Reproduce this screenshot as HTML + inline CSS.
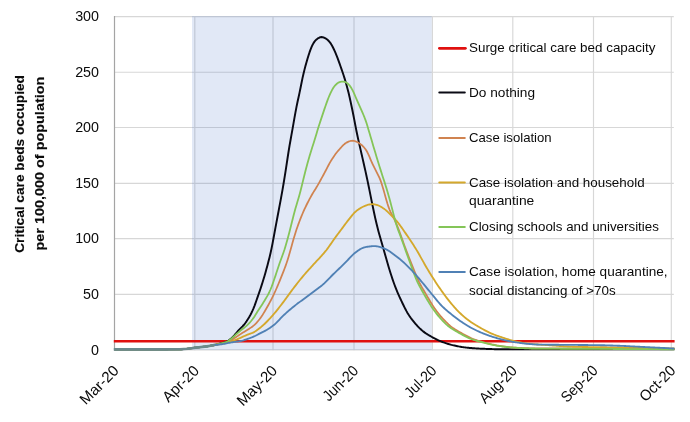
<!DOCTYPE html>
<html><head><meta charset="utf-8"><title>Critical care beds occupied</title>
<style>
html,body{margin:0;padding:0;background:#fff;}
body{width:690px;height:422px;overflow:hidden;position:relative;font-family:"Liberation Sans",sans-serif;}
</style></head><body>
<svg width="690" height="422" viewBox="0 0 690 422" style="position:absolute;left:0;top:0;will-change:transform;font-family:'Liberation Sans',sans-serif">
<rect x="0" y="0" width="690" height="422" fill="#ffffff"/>
<line x1="114" y1="294.4" x2="673.8" y2="294.4" stroke="#d7d7d7" stroke-width="1.15"/>
<line x1="114" y1="238.6" x2="673.8" y2="238.6" stroke="#d7d7d7" stroke-width="1.15"/>
<line x1="114" y1="183.3" x2="673.8" y2="183.3" stroke="#d7d7d7" stroke-width="1.15"/>
<line x1="114" y1="127.5" x2="673.8" y2="127.5" stroke="#d7d7d7" stroke-width="1.15"/>
<line x1="114" y1="72.2" x2="673.8" y2="72.2" stroke="#d7d7d7" stroke-width="1.15"/>
<line x1="114" y1="16.6" x2="673.8" y2="16.6" stroke="#d7d7d7" stroke-width="1.15"/>
<line x1="194.8" y1="16" x2="194.8" y2="350.3" stroke="#d7d7d7" stroke-width="1.15"/>
<line x1="273.0" y1="16" x2="273.0" y2="350.3" stroke="#d7d7d7" stroke-width="1.15"/>
<line x1="354.0" y1="16" x2="354.0" y2="350.3" stroke="#d7d7d7" stroke-width="1.15"/>
<line x1="432.4" y1="16" x2="432.4" y2="350.3" stroke="#d7d7d7" stroke-width="1.15"/>
<line x1="512.8" y1="16" x2="512.8" y2="350.3" stroke="#d7d7d7" stroke-width="1.15"/>
<line x1="593.5" y1="16" x2="593.5" y2="350.3" stroke="#d7d7d7" stroke-width="1.15"/>
<line x1="671.3" y1="16" x2="671.3" y2="350.3" stroke="#d7d7d7" stroke-width="1.15"/>
<line x1="114" y1="349.8" x2="673.8" y2="349.8" stroke="#d7d7d7" stroke-width="1.15"/>
<line x1="114.5" y1="16" x2="114.5" y2="350.3" stroke="#a4a4a4" stroke-width="1.2"/>
<rect x="192" y="16" width="239.7" height="334" fill="rgb(68,114,196)" fill-opacity="0.16"/>
<line x1="113.8" y1="341.3" x2="674.6" y2="341.3" stroke="#e0100f" stroke-width="2.6" stroke-linecap="butt"/>
<path d="M114.5,349.40 L115.5,349.40 L116.5,349.40 L117.5,349.40 L118.5,349.40 L119.5,349.40 L120.5,349.40 L121.5,349.40 L122.5,349.40 L123.5,349.40 L124.5,349.40 L125.5,349.40 L126.5,349.40 L127.5,349.40 L128.5,349.40 L129.5,349.40 L130.5,349.40 L131.5,349.40 L132.5,349.40 L133.5,349.40 L134.5,349.40 L135.5,349.40 L136.5,349.40 L137.5,349.40 L138.5,349.40 L139.5,349.40 L140.5,349.40 L141.5,349.40 L142.5,349.40 L143.5,349.40 L144.5,349.40 L145.5,349.40 L146.5,349.40 L147.5,349.40 L148.5,349.40 L149.5,349.40 L150.5,349.40 L151.5,349.40 L152.5,349.40 L153.5,349.40 L154.5,349.40 L155.5,349.40 L156.5,349.40 L157.5,349.40 L158.5,349.40 L159.5,349.40 L160.5,349.40 L161.5,349.40 L162.5,349.40 L163.5,349.40 L164.5,349.40 L165.5,349.40 L166.5,349.40 L167.5,349.40 L168.5,349.39 L169.5,349.39 L170.5,349.39 L171.5,349.38 L172.5,349.37 L173.5,349.37 L174.5,349.36 L175.5,349.35 L176.5,349.34 L177.5,349.33 L178.5,349.32 L179.5,349.30 L180.5,349.28 L181.5,349.24 L182.5,349.19 L183.5,349.12 L184.5,349.04 L185.5,348.95 L186.5,348.85 L187.5,348.75 L188.5,348.63 L189.5,348.50 L190.5,348.36 L191.5,348.20 L192.5,348.04 L193.5,347.89 L194.5,347.75 L195.5,347.62 L196.5,347.51 L197.5,347.40 L198.5,347.29 L199.5,347.19 L200.5,347.09 L201.5,346.99 L202.5,346.89 L203.5,346.78 L204.5,346.66 L205.5,346.53 L206.5,346.39 L207.5,346.24 L208.5,346.08 L209.5,345.92 L210.5,345.75 L211.5,345.56 L212.5,345.37 L213.5,345.17 L214.5,344.96 L215.5,344.74 L216.5,344.51 L217.5,344.28 L218.5,344.04 L219.5,343.79 L220.5,343.53 L221.5,343.26 L222.5,342.97 L223.5,342.66 L224.5,342.34 L225.5,341.98 L226.5,341.56 L227.5,341.07 L228.5,340.47 L229.5,339.77 L230.5,338.98 L231.5,338.12 L232.5,337.19 L233.5,336.19 L234.5,335.12 L235.5,333.98 L236.5,332.79 L237.5,331.59 L238.5,330.43 L239.5,329.34 L240.5,328.33 L241.5,327.35 L242.5,326.35 L243.5,325.28 L244.5,324.09 L245.5,322.77 L246.5,321.34 L247.5,319.80 L248.5,318.19 L249.5,316.50 L250.5,314.71 L251.5,312.78 L252.5,310.68 L253.5,308.35 L254.5,305.80 L255.5,303.07 L256.5,300.25 L257.5,297.39 L258.5,294.52 L259.5,291.63 L260.5,288.70 L261.5,285.68 L262.5,282.55 L263.5,279.30 L264.5,275.92 L265.5,272.42 L266.5,268.82 L267.5,265.14 L268.5,261.36 L269.5,257.44 L270.5,253.25 L271.5,248.66 L272.5,243.63 L273.5,238.29 L274.5,232.84 L275.5,227.43 L276.5,222.07 L277.5,216.76 L278.5,211.47 L279.5,206.19 L280.5,200.87 L281.5,195.43 L282.5,189.80 L283.5,183.97 L284.5,177.93 L285.5,171.65 L286.5,165.13 L287.5,158.49 L288.5,152.00 L289.5,145.90 L290.5,140.21 L291.5,134.68 L292.5,129.09 L293.5,123.40 L294.5,117.70 L295.5,112.14 L296.5,106.89 L297.5,102.05 L298.5,97.49 L299.5,92.89 L300.5,88.01 L301.5,82.97 L302.5,78.12 L303.5,73.69 L304.5,69.64 L305.5,65.82 L306.5,62.18 L307.5,58.73 L308.5,55.48 L309.5,52.45 L310.5,49.65 L311.5,47.12 L312.5,44.93 L313.5,43.11 L314.5,41.62 L315.5,40.42 L316.5,39.44 L317.5,38.65 L318.5,38.01 L319.5,37.51 L320.5,37.19 L321.5,37.07 L322.5,37.17 L323.5,37.46 L324.5,37.88 L325.5,38.41 L326.5,39.04 L327.5,39.81 L328.5,40.73 L329.5,41.83 L330.5,43.12 L331.5,44.66 L332.5,46.46 L333.5,48.48 L334.5,50.67 L335.5,52.97 L336.5,55.40 L337.5,57.94 L338.5,60.61 L339.5,63.37 L340.5,66.20 L341.5,69.08 L342.5,72.00 L343.5,75.00 L344.5,78.15 L345.5,81.48 L346.5,85.00 L347.5,88.69 L348.5,92.60 L349.5,96.78 L350.5,101.25 L351.5,105.93 L352.5,110.73 L353.5,115.69 L354.5,120.82 L355.5,126.07 L356.5,131.19 L357.5,136.04 L358.5,140.60 L359.5,145.01 L360.5,149.35 L361.5,153.71 L362.5,158.10 L363.5,162.50 L364.5,166.91 L365.5,171.37 L366.5,175.92 L367.5,180.61 L368.5,185.45 L369.5,190.42 L370.5,195.43 L371.5,200.40 L372.5,205.28 L373.5,210.07 L374.5,214.76 L375.5,219.28 L376.5,223.57 L377.5,227.60 L378.5,231.40 L379.5,235.01 L380.5,238.52 L381.5,241.98 L382.5,245.45 L383.5,248.95 L384.5,252.50 L385.5,256.06 L386.5,259.60 L387.5,263.08 L388.5,266.47 L389.5,269.76 L390.5,272.96 L391.5,276.07 L392.5,279.09 L393.5,282.00 L394.5,284.78 L395.5,287.42 L396.5,289.93 L397.5,292.33 L398.5,294.63 L399.5,296.86 L400.5,299.03 L401.5,301.15 L402.5,303.24 L403.5,305.30 L404.5,307.32 L405.5,309.28 L406.5,311.14 L407.5,312.90 L408.5,314.54 L409.5,316.08 L410.5,317.53 L411.5,318.90 L412.5,320.22 L413.5,321.47 L414.5,322.68 L415.5,323.84 L416.5,324.96 L417.5,326.04 L418.5,327.09 L419.5,328.10 L420.5,329.06 L421.5,329.98 L422.5,330.84 L423.5,331.64 L424.5,332.40 L425.5,333.11 L426.5,333.78 L427.5,334.43 L428.5,335.04 L429.5,335.63 L430.5,336.21 L431.5,336.77 L432.5,337.32 L433.5,337.86 L434.5,338.39 L435.5,338.90 L436.5,339.40 L437.5,339.88 L438.5,340.33 L439.5,340.77 L440.5,341.19 L441.5,341.59 L442.5,341.97 L443.5,342.34 L444.5,342.70 L445.5,343.05 L446.5,343.38 L447.5,343.71 L448.5,344.01 L449.5,344.31 L450.5,344.58 L451.5,344.85 L452.5,345.09 L453.5,345.33 L454.5,345.56 L455.5,345.78 L456.5,346.00 L457.5,346.21 L458.5,346.41 L459.5,346.60 L460.5,346.78 L461.5,346.95 L462.5,347.11 L463.5,347.26 L464.5,347.39 L465.5,347.52 L466.5,347.63 L467.5,347.73 L468.5,347.82 L469.5,347.91 L470.5,348.00 L471.5,348.08 L472.5,348.16 L473.5,348.24 L474.5,348.31 L475.5,348.38 L476.5,348.45 L477.5,348.51 L478.5,348.57 L479.5,348.62 L480.5,348.67 L481.5,348.72 L482.5,348.76 L483.5,348.80 L484.5,348.84 L485.5,348.87 L486.5,348.91 L487.5,348.95 L488.5,348.98 L489.5,349.02 L490.5,349.05 L491.5,349.09 L492.5,349.12 L493.5,349.15 L494.5,349.17 L495.5,349.20 L496.5,349.22 L497.5,349.24 L498.5,349.26 L499.5,349.27 L500.5,349.28 L501.5,349.29 L502.5,349.30 L503.5,349.30 L504.5,349.30 L505.5,349.30 L506.5,349.30 L507.5,349.30 L508.5,349.30 L509.5,349.30 L510.5,349.30 L511.5,349.30 L512.5,349.30 L513.5,349.30 L514.5,349.30 L515.5,349.30 L516.5,349.30 L517.5,349.30 L518.5,349.30 L519.5,349.30 L520.5,349.30 L521.5,349.30 L522.5,349.30 L523.5,349.30 L524.5,349.30 L525.5,349.30 L526.5,349.30 L527.5,349.30 L528.5,349.30 L529.5,349.30 L530.5,349.30 L531.5,349.30 L532.5,349.30 L533.5,349.30 L534.5,349.30 L535.5,349.30 L536.5,349.30 L537.5,349.30 L538.5,349.30 L539.5,349.30 L540.5,349.30 L541.5,349.30 L542.5,349.30 L543.5,349.30 L544.5,349.30 L545.5,349.30 L546.5,349.30 L547.5,349.30 L548.5,349.30 L549.5,349.30 L550.5,349.30 L551.5,349.30 L552.5,349.30 L553.5,349.30 L554.5,349.30 L555.5,349.30 L556.5,349.30 L557.5,349.30 L558.5,349.30 L559.5,349.30 L560.5,349.30 L561.5,349.30 L562.5,349.30 L563.5,349.30 L564.5,349.30 L565.5,349.30 L566.5,349.30 L567.5,349.30 L568.5,349.30 L569.5,349.30 L570.5,349.30 L571.5,349.30 L572.5,349.30 L573.5,349.30 L574.5,349.30 L575.5,349.30 L576.5,349.30 L577.5,349.30 L578.5,349.30 L579.5,349.30 L580.5,349.30 L581.5,349.30 L582.5,349.30 L583.5,349.30 L584.5,349.30 L585.5,349.30 L586.5,349.30 L587.5,349.30 L588.5,349.30 L589.5,349.30 L590.5,349.30 L591.5,349.30 L592.5,349.30 L593.5,349.30 L594.5,349.30 L595.5,349.30 L596.5,349.30 L597.5,349.30 L598.5,349.30 L599.5,349.30 L600.5,349.30 L601.5,349.30 L602.5,349.30 L603.5,349.30 L604.5,349.30 L605.5,349.30 L606.5,349.30 L607.5,349.30 L608.5,349.30 L609.5,349.30 L610.5,349.30 L611.5,349.30 L612.5,349.30 L613.5,349.30 L614.5,349.30 L615.5,349.30 L616.5,349.30 L617.5,349.30 L618.5,349.30 L619.5,349.30 L620.5,349.30 L621.5,349.30 L622.5,349.30 L623.5,349.30 L624.5,349.30 L625.5,349.30 L626.5,349.30 L627.5,349.30 L628.5,349.30 L629.5,349.30 L630.5,349.30 L631.5,349.30 L632.5,349.30 L633.5,349.30 L634.5,349.30 L635.5,349.30 L636.5,349.30 L637.5,349.30 L638.5,349.30 L639.5,349.30 L640.5,349.30 L641.5,349.30 L642.5,349.30 L643.5,349.30 L644.5,349.30 L645.5,349.30 L646.5,349.30 L647.5,349.30 L648.5,349.30 L649.5,349.30 L650.5,349.30 L651.5,349.30 L652.5,349.30 L653.5,349.30 L654.5,349.30 L655.5,349.30 L656.5,349.30 L657.5,349.30 L658.5,349.30 L659.5,349.30 L660.5,349.30 L661.5,349.30 L662.5,349.30 L663.5,349.30 L664.5,349.30 L665.5,349.30 L666.5,349.30 L667.5,349.30 L668.5,349.30 L669.5,349.30 L670.5,349.30 L671.5,349.30 L672.5,349.30 L673.5,349.30 L674.5,349.30" fill="none" stroke="#0a0a14" stroke-width="1.95" stroke-linejoin="round" stroke-linecap="butt"/>
<path d="M114.5,349.40 L115.5,349.40 L116.5,349.40 L117.5,349.40 L118.5,349.40 L119.5,349.40 L120.5,349.40 L121.5,349.40 L122.5,349.40 L123.5,349.40 L124.5,349.40 L125.5,349.40 L126.5,349.40 L127.5,349.40 L128.5,349.40 L129.5,349.40 L130.5,349.40 L131.5,349.40 L132.5,349.40 L133.5,349.40 L134.5,349.40 L135.5,349.40 L136.5,349.40 L137.5,349.40 L138.5,349.40 L139.5,349.40 L140.5,349.40 L141.5,349.40 L142.5,349.40 L143.5,349.40 L144.5,349.40 L145.5,349.40 L146.5,349.40 L147.5,349.40 L148.5,349.40 L149.5,349.40 L150.5,349.40 L151.5,349.40 L152.5,349.40 L153.5,349.40 L154.5,349.40 L155.5,349.40 L156.5,349.40 L157.5,349.40 L158.5,349.40 L159.5,349.40 L160.5,349.40 L161.5,349.40 L162.5,349.40 L163.5,349.40 L164.5,349.40 L165.5,349.40 L166.5,349.40 L167.5,349.40 L168.5,349.39 L169.5,349.39 L170.5,349.39 L171.5,349.38 L172.5,349.37 L173.5,349.37 L174.5,349.36 L175.5,349.35 L176.5,349.34 L177.5,349.33 L178.5,349.32 L179.5,349.30 L180.5,349.28 L181.5,349.24 L182.5,349.19 L183.5,349.12 L184.5,349.04 L185.5,348.95 L186.5,348.85 L187.5,348.75 L188.5,348.63 L189.5,348.50 L190.5,348.36 L191.5,348.20 L192.5,348.04 L193.5,347.89 L194.5,347.75 L195.5,347.62 L196.5,347.51 L197.5,347.40 L198.5,347.29 L199.5,347.19 L200.5,347.09 L201.5,346.99 L202.5,346.89 L203.5,346.78 L204.5,346.66 L205.5,346.53 L206.5,346.39 L207.5,346.24 L208.5,346.08 L209.5,345.92 L210.5,345.75 L211.5,345.57 L212.5,345.39 L213.5,345.20 L214.5,345.00 L215.5,344.80 L216.5,344.60 L217.5,344.40 L218.5,344.20 L219.5,343.99 L220.5,343.78 L221.5,343.56 L222.5,343.34 L223.5,343.10 L224.5,342.84 L225.5,342.57 L226.5,342.27 L227.5,341.92 L228.5,341.52 L229.5,341.06 L230.5,340.54 L231.5,339.99 L232.5,339.38 L233.5,338.75 L234.5,338.10 L235.5,337.44 L236.5,336.77 L237.5,336.11 L238.5,335.44 L239.5,334.77 L240.5,334.12 L241.5,333.48 L242.5,332.85 L243.5,332.25 L244.5,331.65 L245.5,331.05 L246.5,330.44 L247.5,329.82 L248.5,329.19 L249.5,328.55 L250.5,327.89 L251.5,327.21 L252.5,326.48 L253.5,325.68 L254.5,324.81 L255.5,323.84 L256.5,322.80 L257.5,321.67 L258.5,320.47 L259.5,319.21 L260.5,317.87 L261.5,316.46 L262.5,314.96 L263.5,313.38 L264.5,311.74 L265.5,310.04 L266.5,308.30 L267.5,306.52 L268.5,304.72 L269.5,302.89 L270.5,301.01 L271.5,299.08 L272.5,297.09 L273.5,295.04 L274.5,292.93 L275.5,290.75 L276.5,288.49 L277.5,286.15 L278.5,283.76 L279.5,281.31 L280.5,278.84 L281.5,276.36 L282.5,273.87 L283.5,271.36 L284.5,268.80 L285.5,266.14 L286.5,263.31 L287.5,260.27 L288.5,257.00 L289.5,253.55 L290.5,250.00 L291.5,246.42 L292.5,242.83 L293.5,239.30 L294.5,235.89 L295.5,232.65 L296.5,229.59 L297.5,226.68 L298.5,223.88 L299.5,221.19 L300.5,218.60 L301.5,216.11 L302.5,213.72 L303.5,211.42 L304.5,209.20 L305.5,207.07 L306.5,205.00 L307.5,202.99 L308.5,201.05 L309.5,199.15 L310.5,197.31 L311.5,195.53 L312.5,193.81 L313.5,192.16 L314.5,190.55 L315.5,188.95 L316.5,187.32 L317.5,185.64 L318.5,183.90 L319.5,182.11 L320.5,180.28 L321.5,178.44 L322.5,176.59 L323.5,174.73 L324.5,172.87 L325.5,170.99 L326.5,169.09 L327.5,167.18 L328.5,165.28 L329.5,163.42 L330.5,161.65 L331.5,159.97 L332.5,158.39 L333.5,156.89 L334.5,155.46 L335.5,154.10 L336.5,152.79 L337.5,151.54 L338.5,150.35 L339.5,149.20 L340.5,148.08 L341.5,146.99 L342.5,145.93 L343.5,144.93 L344.5,144.04 L345.5,143.27 L346.5,142.63 L347.5,142.11 L348.5,141.66 L349.5,141.28 L350.5,140.97 L351.5,140.77 L352.5,140.71 L353.5,140.78 L354.5,141.00 L355.5,141.34 L356.5,141.76 L357.5,142.25 L358.5,142.79 L359.5,143.39 L360.5,144.07 L361.5,144.86 L362.5,145.77 L363.5,146.80 L364.5,147.95 L365.5,149.23 L366.5,150.73 L367.5,152.52 L368.5,154.63 L369.5,156.96 L370.5,159.35 L371.5,161.65 L372.5,163.82 L373.5,165.89 L374.5,167.90 L375.5,169.89 L376.5,171.85 L377.5,173.79 L378.5,175.77 L379.5,177.90 L380.5,180.35 L381.5,183.22 L382.5,186.43 L383.5,189.86 L384.5,193.38 L385.5,196.93 L386.5,200.47 L387.5,203.85 L388.5,206.91 L389.5,209.56 L390.5,211.80 L391.5,213.78 L392.5,215.67 L393.5,217.60 L394.5,219.66 L395.5,221.84 L396.5,224.15 L397.5,226.59 L398.5,229.18 L399.5,231.87 L400.5,234.62 L401.5,237.39 L402.5,240.17 L403.5,242.94 L404.5,245.70 L405.5,248.42 L406.5,251.07 L407.5,253.68 L408.5,256.24 L409.5,258.77 L410.5,261.27 L411.5,263.77 L412.5,266.27 L413.5,268.78 L414.5,271.31 L415.5,273.82 L416.5,276.26 L417.5,278.59 L418.5,280.78 L419.5,282.83 L420.5,284.75 L421.5,286.57 L422.5,288.33 L423.5,290.04 L424.5,291.73 L425.5,293.42 L426.5,295.13 L427.5,296.84 L428.5,298.55 L429.5,300.26 L430.5,301.93 L431.5,303.57 L432.5,305.14 L433.5,306.66 L434.5,308.13 L435.5,309.54 L436.5,310.91 L437.5,312.24 L438.5,313.53 L439.5,314.77 L440.5,315.96 L441.5,317.12 L442.5,318.25 L443.5,319.35 L444.5,320.43 L445.5,321.47 L446.5,322.49 L447.5,323.46 L448.5,324.40 L449.5,325.28 L450.5,326.11 L451.5,326.90 L452.5,327.63 L453.5,328.32 L454.5,328.98 L455.5,329.62 L456.5,330.22 L457.5,330.81 L458.5,331.39 L459.5,331.96 L460.5,332.52 L461.5,333.08 L462.5,333.64 L463.5,334.20 L464.5,334.76 L465.5,335.31 L466.5,335.84 L467.5,336.37 L468.5,336.88 L469.5,337.37 L470.5,337.84 L471.5,338.29 L472.5,338.71 L473.5,339.10 L474.5,339.47 L475.5,339.83 L476.5,340.17 L477.5,340.50 L478.5,340.82 L479.5,341.12 L480.5,341.42 L481.5,341.70 L482.5,341.98 L483.5,342.25 L484.5,342.52 L485.5,342.78 L486.5,343.03 L487.5,343.28 L488.5,343.53 L489.5,343.78 L490.5,344.02 L491.5,344.25 L492.5,344.48 L493.5,344.70 L494.5,344.92 L495.5,345.12 L496.5,345.32 L497.5,345.51 L498.5,345.68 L499.5,345.85 L500.5,346.01 L501.5,346.16 L502.5,346.31 L503.5,346.45 L504.5,346.60 L505.5,346.73 L506.5,346.87 L507.5,346.99 L508.5,347.11 L509.5,347.22 L510.5,347.32 L511.5,347.41 L512.5,347.49 L513.5,347.56 L514.5,347.63 L515.5,347.69 L516.5,347.74 L517.5,347.79 L518.5,347.85 L519.5,347.90 L520.5,347.95 L521.5,347.99 L522.5,348.03 L523.5,348.08 L524.5,348.11 L525.5,348.15 L526.5,348.18 L527.5,348.21 L528.5,348.23 L529.5,348.26 L530.5,348.27 L531.5,348.29 L532.5,348.30 L533.5,348.30 L534.5,348.31 L535.5,348.32 L536.5,348.32 L537.5,348.33 L538.5,348.33 L539.5,348.34 L540.5,348.34 L541.5,348.35 L542.5,348.35 L543.5,348.36 L544.5,348.36 L545.5,348.37 L546.5,348.37 L547.5,348.37 L548.5,348.38 L549.5,348.38 L550.5,348.38 L551.5,348.39 L552.5,348.39 L553.5,348.39 L554.5,348.40 L555.5,348.40 L556.5,348.40 L557.5,348.40 L558.5,348.41 L559.5,348.41 L560.5,348.41 L561.5,348.41 L562.5,348.41 L563.5,348.42 L564.5,348.42 L565.5,348.42 L566.5,348.42 L567.5,348.42 L568.5,348.42 L569.5,348.43 L570.5,348.43 L571.5,348.43 L572.5,348.43 L573.5,348.43 L574.5,348.43 L575.5,348.44 L576.5,348.44 L577.5,348.44 L578.5,348.44 L579.5,348.44 L580.5,348.45 L581.5,348.45 L582.5,348.45 L583.5,348.45 L584.5,348.45 L585.5,348.46 L586.5,348.46 L587.5,348.46 L588.5,348.46 L589.5,348.47 L590.5,348.47 L591.5,348.47 L592.5,348.47 L593.5,348.48 L594.5,348.48 L595.5,348.48 L596.5,348.49 L597.5,348.49 L598.5,348.49 L599.5,348.50 L600.5,348.50 L601.5,348.51 L602.5,348.51 L603.5,348.51 L604.5,348.52 L605.5,348.52 L606.5,348.53 L607.5,348.53 L608.5,348.54 L609.5,348.54 L610.5,348.55 L611.5,348.55 L612.5,348.56 L613.5,348.56 L614.5,348.57 L615.5,348.57 L616.5,348.58 L617.5,348.58 L618.5,348.59 L619.5,348.60 L620.5,348.60 L621.5,348.61 L622.5,348.61 L623.5,348.62 L624.5,348.62 L625.5,348.63 L626.5,348.64 L627.5,348.64 L628.5,348.65 L629.5,348.66 L630.5,348.66 L631.5,348.67 L632.5,348.67 L633.5,348.68 L634.5,348.69 L635.5,348.69 L636.5,348.70 L637.5,348.71 L638.5,348.72 L639.5,348.72 L640.5,348.73 L641.5,348.74 L642.5,348.74 L643.5,348.75 L644.5,348.76 L645.5,348.76 L646.5,348.77 L647.5,348.78 L648.5,348.79 L649.5,348.79 L650.5,348.80 L651.5,348.81 L652.5,348.82 L653.5,348.83 L654.5,348.83 L655.5,348.84 L656.5,348.85 L657.5,348.86 L658.5,348.86 L659.5,348.87 L660.5,348.88 L661.5,348.89 L662.5,348.90 L663.5,348.90 L664.5,348.91 L665.5,348.92 L666.5,348.93 L667.5,348.94 L668.5,348.95 L669.5,348.95 L670.5,348.96 L671.5,348.97 L672.5,348.98 L673.5,348.99 L674.5,348.99" fill="none" stroke="#d08350" stroke-width="1.75" stroke-linejoin="round" stroke-linecap="butt"/>
<path d="M114.5,349.40 L115.5,349.40 L116.5,349.40 L117.5,349.40 L118.5,349.40 L119.5,349.40 L120.5,349.40 L121.5,349.40 L122.5,349.40 L123.5,349.40 L124.5,349.40 L125.5,349.40 L126.5,349.40 L127.5,349.40 L128.5,349.40 L129.5,349.40 L130.5,349.40 L131.5,349.40 L132.5,349.40 L133.5,349.40 L134.5,349.40 L135.5,349.40 L136.5,349.40 L137.5,349.40 L138.5,349.40 L139.5,349.40 L140.5,349.40 L141.5,349.40 L142.5,349.40 L143.5,349.40 L144.5,349.40 L145.5,349.40 L146.5,349.40 L147.5,349.40 L148.5,349.40 L149.5,349.40 L150.5,349.40 L151.5,349.40 L152.5,349.40 L153.5,349.40 L154.5,349.40 L155.5,349.40 L156.5,349.40 L157.5,349.40 L158.5,349.40 L159.5,349.40 L160.5,349.40 L161.5,349.40 L162.5,349.40 L163.5,349.40 L164.5,349.40 L165.5,349.40 L166.5,349.40 L167.5,349.40 L168.5,349.39 L169.5,349.39 L170.5,349.39 L171.5,349.38 L172.5,349.37 L173.5,349.37 L174.5,349.36 L175.5,349.35 L176.5,349.34 L177.5,349.33 L178.5,349.32 L179.5,349.30 L180.5,349.28 L181.5,349.24 L182.5,349.19 L183.5,349.12 L184.5,349.04 L185.5,348.95 L186.5,348.85 L187.5,348.75 L188.5,348.63 L189.5,348.50 L190.5,348.36 L191.5,348.20 L192.5,348.04 L193.5,347.89 L194.5,347.75 L195.5,347.62 L196.5,347.51 L197.5,347.40 L198.5,347.29 L199.5,347.19 L200.5,347.09 L201.5,346.99 L202.5,346.89 L203.5,346.78 L204.5,346.66 L205.5,346.53 L206.5,346.38 L207.5,346.23 L208.5,346.08 L209.5,345.91 L210.5,345.75 L211.5,345.58 L212.5,345.41 L213.5,345.23 L214.5,345.05 L215.5,344.87 L216.5,344.69 L217.5,344.51 L218.5,344.34 L219.5,344.16 L220.5,343.98 L221.5,343.80 L222.5,343.61 L223.5,343.42 L224.5,343.22 L225.5,343.01 L226.5,342.80 L227.5,342.56 L228.5,342.31 L229.5,342.04 L230.5,341.74 L231.5,341.42 L232.5,341.08 L233.5,340.72 L234.5,340.34 L235.5,339.95 L236.5,339.54 L237.5,339.12 L238.5,338.68 L239.5,338.24 L240.5,337.79 L241.5,337.34 L242.5,336.90 L243.5,336.45 L244.5,336.00 L245.5,335.55 L246.5,335.12 L247.5,334.70 L248.5,334.31 L249.5,333.93 L250.5,333.57 L251.5,333.20 L252.5,332.80 L253.5,332.34 L254.5,331.82 L255.5,331.23 L256.5,330.56 L257.5,329.83 L258.5,329.07 L259.5,328.29 L260.5,327.48 L261.5,326.65 L262.5,325.78 L263.5,324.89 L264.5,323.96 L265.5,323.00 L266.5,322.01 L267.5,321.00 L268.5,319.96 L269.5,318.90 L270.5,317.81 L271.5,316.70 L272.5,315.58 L273.5,314.43 L274.5,313.26 L275.5,312.07 L276.5,310.85 L277.5,309.60 L278.5,308.34 L279.5,307.05 L280.5,305.76 L281.5,304.45 L282.5,303.14 L283.5,301.82 L284.5,300.49 L285.5,299.14 L286.5,297.78 L287.5,296.40 L288.5,295.01 L289.5,293.63 L290.5,292.25 L291.5,290.88 L292.5,289.54 L293.5,288.21 L294.5,286.90 L295.5,285.61 L296.5,284.32 L297.5,283.05 L298.5,281.78 L299.5,280.53 L300.5,279.29 L301.5,278.07 L302.5,276.87 L303.5,275.68 L304.5,274.51 L305.5,273.36 L306.5,272.23 L307.5,271.11 L308.5,269.99 L309.5,268.89 L310.5,267.79 L311.5,266.68 L312.5,265.58 L313.5,264.47 L314.5,263.38 L315.5,262.29 L316.5,261.22 L317.5,260.15 L318.5,259.08 L319.5,258.01 L320.5,256.93 L321.5,255.84 L322.5,254.73 L323.5,253.59 L324.5,252.42 L325.5,251.21 L326.5,249.96 L327.5,248.64 L328.5,247.27 L329.5,245.84 L330.5,244.39 L331.5,242.92 L332.5,241.47 L333.5,240.04 L334.5,238.65 L335.5,237.27 L336.5,235.91 L337.5,234.56 L338.5,233.22 L339.5,231.88 L340.5,230.54 L341.5,229.19 L342.5,227.84 L343.5,226.49 L344.5,225.14 L345.5,223.80 L346.5,222.48 L347.5,221.18 L348.5,219.90 L349.5,218.63 L350.5,217.36 L351.5,216.11 L352.5,214.89 L353.5,213.74 L354.5,212.68 L355.5,211.72 L356.5,210.87 L357.5,210.09 L358.5,209.38 L359.5,208.72 L360.5,208.11 L361.5,207.54 L362.5,207.01 L363.5,206.53 L364.5,206.07 L365.5,205.65 L366.5,205.28 L367.5,204.97 L368.5,204.70 L369.5,204.47 L370.5,204.30 L371.5,204.19 L372.5,204.17 L373.5,204.23 L374.5,204.35 L375.5,204.54 L376.5,204.79 L377.5,205.11 L378.5,205.51 L379.5,205.98 L380.5,206.50 L381.5,207.08 L382.5,207.71 L383.5,208.40 L384.5,209.12 L385.5,209.89 L386.5,210.71 L387.5,211.60 L388.5,212.55 L389.5,213.57 L390.5,214.61 L391.5,215.65 L392.5,216.69 L393.5,217.70 L394.5,218.72 L395.5,219.76 L396.5,220.85 L397.5,222.02 L398.5,223.26 L399.5,224.58 L400.5,225.96 L401.5,227.37 L402.5,228.79 L403.5,230.22 L404.5,231.67 L405.5,233.13 L406.5,234.61 L407.5,236.10 L408.5,237.60 L409.5,239.09 L410.5,240.58 L411.5,242.07 L412.5,243.57 L413.5,245.09 L414.5,246.64 L415.5,248.23 L416.5,249.87 L417.5,251.56 L418.5,253.29 L419.5,255.06 L420.5,256.84 L421.5,258.61 L422.5,260.38 L423.5,262.15 L424.5,263.92 L425.5,265.68 L426.5,267.42 L427.5,269.13 L428.5,270.81 L429.5,272.46 L430.5,274.08 L431.5,275.67 L432.5,277.25 L433.5,278.81 L434.5,280.35 L435.5,281.89 L436.5,283.41 L437.5,284.91 L438.5,286.40 L439.5,287.87 L440.5,289.32 L441.5,290.75 L442.5,292.15 L443.5,293.54 L444.5,294.91 L445.5,296.27 L446.5,297.59 L447.5,298.89 L448.5,300.16 L449.5,301.40 L450.5,302.62 L451.5,303.83 L452.5,305.01 L453.5,306.18 L454.5,307.32 L455.5,308.43 L456.5,309.51 L457.5,310.56 L458.5,311.58 L459.5,312.57 L460.5,313.53 L461.5,314.47 L462.5,315.38 L463.5,316.28 L464.5,317.14 L465.5,317.98 L466.5,318.80 L467.5,319.58 L468.5,320.33 L469.5,321.06 L470.5,321.76 L471.5,322.43 L472.5,323.08 L473.5,323.71 L474.5,324.33 L475.5,324.93 L476.5,325.53 L477.5,326.12 L478.5,326.70 L479.5,327.28 L480.5,327.86 L481.5,328.43 L482.5,329.00 L483.5,329.56 L484.5,330.11 L485.5,330.65 L486.5,331.18 L487.5,331.69 L488.5,332.18 L489.5,332.66 L490.5,333.11 L491.5,333.55 L492.5,333.97 L493.5,334.37 L494.5,334.76 L495.5,335.14 L496.5,335.51 L497.5,335.87 L498.5,336.22 L499.5,336.57 L500.5,336.91 L501.5,337.24 L502.5,337.57 L503.5,337.90 L504.5,338.22 L505.5,338.55 L506.5,338.87 L507.5,339.18 L508.5,339.49 L509.5,339.80 L510.5,340.09 L511.5,340.38 L512.5,340.65 L513.5,340.91 L514.5,341.16 L515.5,341.39 L516.5,341.62 L517.5,341.83 L518.5,342.04 L519.5,342.25 L520.5,342.45 L521.5,342.64 L522.5,342.82 L523.5,342.99 L524.5,343.15 L525.5,343.30 L526.5,343.43 L527.5,343.56 L528.5,343.67 L529.5,343.78 L530.5,343.88 L531.5,343.97 L532.5,344.07 L533.5,344.15 L534.5,344.24 L535.5,344.32 L536.5,344.40 L537.5,344.47 L538.5,344.54 L539.5,344.61 L540.5,344.68 L541.5,344.75 L542.5,344.81 L543.5,344.88 L544.5,344.94 L545.5,345.01 L546.5,345.07 L547.5,345.14 L548.5,345.20 L549.5,345.27 L550.5,345.33 L551.5,345.40 L552.5,345.47 L553.5,345.54 L554.5,345.62 L555.5,345.69 L556.5,345.76 L557.5,345.83 L558.5,345.90 L559.5,345.97 L560.5,346.04 L561.5,346.11 L562.5,346.18 L563.5,346.25 L564.5,346.31 L565.5,346.37 L566.5,346.43 L567.5,346.49 L568.5,346.54 L569.5,346.59 L570.5,346.64 L571.5,346.68 L572.5,346.72 L573.5,346.75 L574.5,346.78 L575.5,346.81 L576.5,346.84 L577.5,346.86 L578.5,346.88 L579.5,346.90 L580.5,346.92 L581.5,346.94 L582.5,346.96 L583.5,346.97 L584.5,346.99 L585.5,347.01 L586.5,347.02 L587.5,347.03 L588.5,347.05 L589.5,347.06 L590.5,347.08 L591.5,347.09 L592.5,347.10 L593.5,347.11 L594.5,347.13 L595.5,347.14 L596.5,347.15 L597.5,347.17 L598.5,347.18 L599.5,347.19 L600.5,347.21 L601.5,347.22 L602.5,347.23 L603.5,347.25 L604.5,347.26 L605.5,347.27 L606.5,347.29 L607.5,347.30 L608.5,347.31 L609.5,347.32 L610.5,347.33 L611.5,347.34 L612.5,347.36 L613.5,347.37 L614.5,347.38 L615.5,347.39 L616.5,347.40 L617.5,347.41 L618.5,347.42 L619.5,347.43 L620.5,347.44 L621.5,347.46 L622.5,347.47 L623.5,347.48 L624.5,347.49 L625.5,347.50 L626.5,347.51 L627.5,347.53 L628.5,347.54 L629.5,347.55 L630.5,347.56 L631.5,347.58 L632.5,347.59 L633.5,347.60 L634.5,347.62 L635.5,347.63 L636.5,347.65 L637.5,347.66 L638.5,347.68 L639.5,347.69 L640.5,347.71 L641.5,347.73 L642.5,347.74 L643.5,347.76 L644.5,347.78 L645.5,347.80 L646.5,347.82 L647.5,347.84 L648.5,347.86 L649.5,347.88 L650.5,347.90 L651.5,347.92 L652.5,347.94 L653.5,347.96 L654.5,347.98 L655.5,348.01 L656.5,348.03 L657.5,348.05 L658.5,348.08 L659.5,348.10 L660.5,348.12 L661.5,348.15 L662.5,348.17 L663.5,348.20 L664.5,348.22 L665.5,348.25 L666.5,348.28 L667.5,348.30 L668.5,348.33 L669.5,348.36 L670.5,348.38 L671.5,348.41 L672.5,348.44 L673.5,348.46 L674.5,348.48" fill="none" stroke="#d4a82c" stroke-width="1.85" stroke-linejoin="round" stroke-linecap="butt"/>
<path d="M114.5,349.40 L115.5,349.40 L116.5,349.40 L117.5,349.40 L118.5,349.40 L119.5,349.40 L120.5,349.40 L121.5,349.40 L122.5,349.40 L123.5,349.40 L124.5,349.40 L125.5,349.40 L126.5,349.40 L127.5,349.40 L128.5,349.40 L129.5,349.40 L130.5,349.40 L131.5,349.40 L132.5,349.40 L133.5,349.40 L134.5,349.40 L135.5,349.40 L136.5,349.40 L137.5,349.40 L138.5,349.40 L139.5,349.40 L140.5,349.40 L141.5,349.40 L142.5,349.40 L143.5,349.40 L144.5,349.40 L145.5,349.40 L146.5,349.40 L147.5,349.40 L148.5,349.40 L149.5,349.40 L150.5,349.40 L151.5,349.40 L152.5,349.40 L153.5,349.40 L154.5,349.40 L155.5,349.40 L156.5,349.40 L157.5,349.40 L158.5,349.40 L159.5,349.40 L160.5,349.40 L161.5,349.40 L162.5,349.40 L163.5,349.40 L164.5,349.40 L165.5,349.40 L166.5,349.40 L167.5,349.40 L168.5,349.39 L169.5,349.39 L170.5,349.39 L171.5,349.38 L172.5,349.37 L173.5,349.37 L174.5,349.36 L175.5,349.35 L176.5,349.34 L177.5,349.33 L178.5,349.32 L179.5,349.30 L180.5,349.28 L181.5,349.24 L182.5,349.19 L183.5,349.12 L184.5,349.04 L185.5,348.95 L186.5,348.85 L187.5,348.75 L188.5,348.63 L189.5,348.50 L190.5,348.36 L191.5,348.20 L192.5,348.04 L193.5,347.89 L194.5,347.75 L195.5,347.62 L196.5,347.51 L197.5,347.40 L198.5,347.29 L199.5,347.19 L200.5,347.09 L201.5,346.99 L202.5,346.89 L203.5,346.78 L204.5,346.66 L205.5,346.53 L206.5,346.39 L207.5,346.24 L208.5,346.08 L209.5,345.92 L210.5,345.75 L211.5,345.56 L212.5,345.37 L213.5,345.17 L214.5,344.95 L215.5,344.73 L216.5,344.51 L217.5,344.29 L218.5,344.06 L219.5,343.82 L220.5,343.58 L221.5,343.33 L222.5,343.06 L223.5,342.77 L224.5,342.47 L225.5,342.13 L226.5,341.74 L227.5,341.28 L228.5,340.72 L229.5,340.08 L230.5,339.35 L231.5,338.55 L232.5,337.68 L233.5,336.77 L234.5,335.85 L235.5,334.93 L236.5,334.04 L237.5,333.17 L238.5,332.31 L239.5,331.46 L240.5,330.62 L241.5,329.80 L242.5,329.00 L243.5,328.22 L244.5,327.45 L245.5,326.66 L246.5,325.83 L247.5,324.93 L248.5,323.95 L249.5,322.89 L250.5,321.75 L251.5,320.54 L252.5,319.26 L253.5,317.88 L254.5,316.41 L255.5,314.83 L256.5,313.19 L257.5,311.56 L258.5,309.98 L259.5,308.45 L260.5,306.94 L261.5,305.44 L262.5,303.90 L263.5,302.32 L264.5,300.71 L265.5,299.06 L266.5,297.37 L267.5,295.62 L268.5,293.76 L269.5,291.73 L270.5,289.50 L271.5,287.02 L272.5,284.32 L273.5,281.48 L274.5,278.55 L275.5,275.59 L276.5,272.58 L277.5,269.54 L278.5,266.51 L279.5,263.56 L280.5,260.73 L281.5,258.00 L282.5,255.29 L283.5,252.49 L284.5,249.51 L285.5,246.29 L286.5,242.86 L287.5,239.27 L288.5,235.55 L289.5,231.72 L290.5,227.78 L291.5,223.74 L292.5,219.68 L293.5,215.72 L294.5,211.94 L295.5,208.36 L296.5,204.94 L297.5,201.59 L298.5,198.20 L299.5,194.66 L300.5,190.92 L301.5,186.97 L302.5,182.88 L303.5,178.74 L304.5,174.67 L305.5,170.73 L306.5,166.94 L307.5,163.27 L308.5,159.72 L309.5,156.27 L310.5,152.94 L311.5,149.73 L312.5,146.59 L313.5,143.46 L314.5,140.28 L315.5,137.01 L316.5,133.68 L317.5,130.35 L318.5,127.10 L319.5,123.95 L320.5,120.89 L321.5,117.88 L322.5,114.88 L323.5,111.88 L324.5,108.90 L325.5,105.98 L326.5,103.13 L327.5,100.39 L328.5,97.78 L329.5,95.36 L330.5,93.12 L331.5,91.05 L332.5,89.17 L333.5,87.53 L334.5,86.16 L335.5,85.01 L336.5,84.04 L337.5,83.24 L338.5,82.61 L339.5,82.16 L340.5,81.85 L341.5,81.66 L342.5,81.60 L343.5,81.68 L344.5,81.89 L345.5,82.22 L346.5,82.68 L347.5,83.33 L348.5,84.23 L349.5,85.39 L350.5,86.76 L351.5,88.33 L352.5,90.12 L353.5,92.16 L354.5,94.40 L355.5,96.74 L356.5,99.08 L357.5,101.36 L358.5,103.60 L359.5,105.84 L360.5,108.09 L361.5,110.37 L362.5,112.67 L363.5,115.01 L364.5,117.46 L365.5,120.12 L366.5,123.07 L367.5,126.27 L368.5,129.64 L369.5,133.05 L370.5,136.46 L371.5,139.85 L372.5,143.24 L373.5,146.63 L374.5,150.00 L375.5,153.36 L376.5,156.68 L377.5,159.97 L378.5,163.22 L379.5,166.43 L380.5,169.61 L381.5,172.78 L382.5,175.91 L383.5,179.01 L384.5,182.09 L385.5,185.20 L386.5,188.39 L387.5,191.73 L388.5,195.22 L389.5,198.85 L390.5,202.58 L391.5,206.38 L392.5,210.23 L393.5,214.12 L394.5,217.97 L395.5,221.66 L396.5,225.04 L397.5,228.09 L398.5,230.88 L399.5,233.53 L400.5,236.16 L401.5,238.85 L402.5,241.62 L403.5,244.45 L404.5,247.29 L405.5,250.12 L406.5,252.93 L407.5,255.74 L408.5,258.53 L409.5,261.30 L410.5,264.05 L411.5,266.78 L412.5,269.51 L413.5,272.22 L414.5,274.89 L415.5,277.44 L416.5,279.84 L417.5,282.06 L418.5,284.13 L419.5,286.07 L420.5,287.92 L421.5,289.71 L422.5,291.47 L423.5,293.21 L424.5,294.96 L425.5,296.71 L426.5,298.45 L427.5,300.18 L428.5,301.88 L429.5,303.53 L430.5,305.12 L431.5,306.66 L432.5,308.14 L433.5,309.58 L434.5,310.96 L435.5,312.31 L436.5,313.61 L437.5,314.86 L438.5,316.07 L439.5,317.24 L440.5,318.38 L441.5,319.49 L442.5,320.57 L443.5,321.63 L444.5,322.65 L445.5,323.63 L446.5,324.56 L447.5,325.44 L448.5,326.27 L449.5,327.05 L450.5,327.78 L451.5,328.47 L452.5,329.12 L453.5,329.75 L454.5,330.35 L455.5,330.94 L456.5,331.51 L457.5,332.07 L458.5,332.63 L459.5,333.19 L460.5,333.75 L461.5,334.30 L462.5,334.84 L463.5,335.38 L464.5,335.91 L465.5,336.43 L466.5,336.93 L467.5,337.41 L468.5,337.87 L469.5,338.30 L470.5,338.71 L471.5,339.10 L472.5,339.46 L473.5,339.81 L474.5,340.15 L475.5,340.47 L476.5,340.78 L477.5,341.08 L478.5,341.36 L479.5,341.64 L480.5,341.92 L481.5,342.18 L482.5,342.44 L483.5,342.70 L484.5,342.95 L485.5,343.20 L486.5,343.45 L487.5,343.69 L488.5,343.93 L489.5,344.17 L490.5,344.39 L491.5,344.62 L492.5,344.83 L493.5,345.04 L494.5,345.24 L495.5,345.42 L496.5,345.60 L497.5,345.77 L498.5,345.93 L499.5,346.08 L500.5,346.22 L501.5,346.36 L502.5,346.50 L503.5,346.63 L504.5,346.76 L505.5,346.88 L506.5,347.00 L507.5,347.11 L508.5,347.21 L509.5,347.31 L510.5,347.40 L511.5,347.49 L512.5,347.56 L513.5,347.63 L514.5,347.70 L515.5,347.76 L516.5,347.83 L517.5,347.89 L518.5,347.95 L519.5,348.01 L520.5,348.06 L521.5,348.11 L522.5,348.17 L523.5,348.21 L524.5,348.26 L525.5,348.30 L526.5,348.34 L527.5,348.38 L528.5,348.41 L529.5,348.44 L530.5,348.46 L531.5,348.48 L532.5,348.50 L533.5,348.51 L534.5,348.52 L535.5,348.53 L536.5,348.54 L537.5,348.55 L538.5,348.56 L539.5,348.57 L540.5,348.58 L541.5,348.59 L542.5,348.60 L543.5,348.61 L544.5,348.62 L545.5,348.63 L546.5,348.64 L547.5,348.65 L548.5,348.65 L549.5,348.66 L550.5,348.67 L551.5,348.67 L552.5,348.68 L553.5,348.69 L554.5,348.69 L555.5,348.70 L556.5,348.71 L557.5,348.71 L558.5,348.72 L559.5,348.72 L560.5,348.73 L561.5,348.73 L562.5,348.74 L563.5,348.74 L564.5,348.75 L565.5,348.75 L566.5,348.76 L567.5,348.76 L568.5,348.76 L569.5,348.77 L570.5,348.77 L571.5,348.78 L572.5,348.78 L573.5,348.79 L574.5,348.79 L575.5,348.79 L576.5,348.80 L577.5,348.80 L578.5,348.80 L579.5,348.81 L580.5,348.81 L581.5,348.82 L582.5,348.82 L583.5,348.82 L584.5,348.83 L585.5,348.83 L586.5,348.84 L587.5,348.84 L588.5,348.84 L589.5,348.85 L590.5,348.85 L591.5,348.86 L592.5,348.86 L593.5,348.87 L594.5,348.87 L595.5,348.88 L596.5,348.88 L597.5,348.89 L598.5,348.89 L599.5,348.90 L600.5,348.90 L601.5,348.91 L602.5,348.91 L603.5,348.92 L604.5,348.93 L605.5,348.93 L606.5,348.94 L607.5,348.94 L608.5,348.95 L609.5,348.95 L610.5,348.96 L611.5,348.96 L612.5,348.97 L613.5,348.98 L614.5,348.98 L615.5,348.99 L616.5,348.99 L617.5,349.00 L618.5,349.00 L619.5,349.01 L620.5,349.01 L621.5,349.02 L622.5,349.02 L623.5,349.03 L624.5,349.04 L625.5,349.04 L626.5,349.05 L627.5,349.05 L628.5,349.06 L629.5,349.06 L630.5,349.07 L631.5,349.07 L632.5,349.08 L633.5,349.08 L634.5,349.09 L635.5,349.10 L636.5,349.10 L637.5,349.11 L638.5,349.11 L639.5,349.12 L640.5,349.12 L641.5,349.13 L642.5,349.13 L643.5,349.14 L644.5,349.14 L645.5,349.15 L646.5,349.15 L647.5,349.16 L648.5,349.16 L649.5,349.17 L650.5,349.18 L651.5,349.18 L652.5,349.19 L653.5,349.19 L654.5,349.20 L655.5,349.20 L656.5,349.21 L657.5,349.21 L658.5,349.22 L659.5,349.22 L660.5,349.23 L661.5,349.23 L662.5,349.24 L663.5,349.24 L664.5,349.25 L665.5,349.25 L666.5,349.26 L667.5,349.26 L668.5,349.27 L669.5,349.27 L670.5,349.28 L671.5,349.28 L672.5,349.29 L673.5,349.29 L674.5,349.30" fill="none" stroke="#84c558" stroke-width="1.8" stroke-linejoin="round" stroke-linecap="butt"/>
<path d="M114.5,349.40 L115.5,349.40 L116.5,349.40 L117.5,349.40 L118.5,349.40 L119.5,349.40 L120.5,349.40 L121.5,349.40 L122.5,349.40 L123.5,349.40 L124.5,349.40 L125.5,349.40 L126.5,349.40 L127.5,349.40 L128.5,349.40 L129.5,349.40 L130.5,349.40 L131.5,349.40 L132.5,349.40 L133.5,349.40 L134.5,349.40 L135.5,349.40 L136.5,349.40 L137.5,349.40 L138.5,349.40 L139.5,349.40 L140.5,349.40 L141.5,349.40 L142.5,349.40 L143.5,349.40 L144.5,349.40 L145.5,349.40 L146.5,349.40 L147.5,349.40 L148.5,349.40 L149.5,349.40 L150.5,349.40 L151.5,349.40 L152.5,349.40 L153.5,349.40 L154.5,349.40 L155.5,349.40 L156.5,349.40 L157.5,349.40 L158.5,349.40 L159.5,349.40 L160.5,349.40 L161.5,349.40 L162.5,349.40 L163.5,349.40 L164.5,349.40 L165.5,349.40 L166.5,349.40 L167.5,349.40 L168.5,349.39 L169.5,349.39 L170.5,349.39 L171.5,349.38 L172.5,349.37 L173.5,349.37 L174.5,349.36 L175.5,349.35 L176.5,349.34 L177.5,349.33 L178.5,349.32 L179.5,349.30 L180.5,349.28 L181.5,349.24 L182.5,349.19 L183.5,349.12 L184.5,349.04 L185.5,348.95 L186.5,348.85 L187.5,348.75 L188.5,348.63 L189.5,348.50 L190.5,348.36 L191.5,348.20 L192.5,348.04 L193.5,347.89 L194.5,347.75 L195.5,347.62 L196.5,347.51 L197.5,347.40 L198.5,347.29 L199.5,347.19 L200.5,347.09 L201.5,346.99 L202.5,346.89 L203.5,346.78 L204.5,346.66 L205.5,346.52 L206.5,346.38 L207.5,346.23 L208.5,346.07 L209.5,345.91 L210.5,345.75 L211.5,345.60 L212.5,345.45 L213.5,345.30 L214.5,345.15 L215.5,345.01 L216.5,344.87 L217.5,344.74 L218.5,344.61 L219.5,344.48 L220.5,344.35 L221.5,344.22 L222.5,344.08 L223.5,343.92 L224.5,343.74 L225.5,343.55 L226.5,343.35 L227.5,343.15 L228.5,342.96 L229.5,342.77 L230.5,342.60 L231.5,342.43 L232.5,342.27 L233.5,342.10 L234.5,341.95 L235.5,341.79 L236.5,341.63 L237.5,341.48 L238.5,341.33 L239.5,341.17 L240.5,341.00 L241.5,340.80 L242.5,340.56 L243.5,340.29 L244.5,339.98 L245.5,339.66 L246.5,339.32 L247.5,338.97 L248.5,338.61 L249.5,338.25 L250.5,337.88 L251.5,337.49 L252.5,337.08 L253.5,336.66 L254.5,336.21 L255.5,335.73 L256.5,335.22 L257.5,334.71 L258.5,334.18 L259.5,333.67 L260.5,333.16 L261.5,332.67 L262.5,332.18 L263.5,331.68 L264.5,331.15 L265.5,330.60 L266.5,330.03 L267.5,329.43 L268.5,328.81 L269.5,328.17 L270.5,327.50 L271.5,326.80 L272.5,326.07 L273.5,325.30 L274.5,324.47 L275.5,323.58 L276.5,322.62 L277.5,321.61 L278.5,320.57 L279.5,319.51 L280.5,318.45 L281.5,317.41 L282.5,316.39 L283.5,315.42 L284.5,314.48 L285.5,313.56 L286.5,312.66 L287.5,311.78 L288.5,310.90 L289.5,310.04 L290.5,309.19 L291.5,308.35 L292.5,307.52 L293.5,306.71 L294.5,305.91 L295.5,305.13 L296.5,304.36 L297.5,303.61 L298.5,302.86 L299.5,302.12 L300.5,301.38 L301.5,300.64 L302.5,299.89 L303.5,299.15 L304.5,298.40 L305.5,297.65 L306.5,296.91 L307.5,296.16 L308.5,295.41 L309.5,294.67 L310.5,293.92 L311.5,293.17 L312.5,292.43 L313.5,291.68 L314.5,290.94 L315.5,290.22 L316.5,289.49 L317.5,288.76 L318.5,288.03 L319.5,287.28 L320.5,286.52 L321.5,285.72 L322.5,284.90 L323.5,284.03 L324.5,283.12 L325.5,282.16 L326.5,281.17 L327.5,280.15 L328.5,279.12 L329.5,278.08 L330.5,277.04 L331.5,276.02 L332.5,275.01 L333.5,274.03 L334.5,273.06 L335.5,272.10 L336.5,271.15 L337.5,270.20 L338.5,269.24 L339.5,268.28 L340.5,267.30 L341.5,266.32 L342.5,265.32 L343.5,264.32 L344.5,263.31 L345.5,262.31 L346.5,261.30 L347.5,260.28 L348.5,259.24 L349.5,258.18 L350.5,257.12 L351.5,256.07 L352.5,255.07 L353.5,254.14 L354.5,253.28 L355.5,252.49 L356.5,251.74 L357.5,251.01 L358.5,250.31 L359.5,249.65 L360.5,249.04 L361.5,248.50 L362.5,248.03 L363.5,247.66 L364.5,247.37 L365.5,247.14 L366.5,246.94 L367.5,246.77 L368.5,246.61 L369.5,246.47 L370.5,246.35 L371.5,246.25 L372.5,246.18 L373.5,246.14 L374.5,246.13 L375.5,246.18 L376.5,246.29 L377.5,246.45 L378.5,246.66 L379.5,246.92 L380.5,247.21 L381.5,247.53 L382.5,247.87 L383.5,248.23 L384.5,248.61 L385.5,249.04 L386.5,249.53 L387.5,250.08 L388.5,250.69 L389.5,251.35 L390.5,252.04 L391.5,252.75 L392.5,253.47 L393.5,254.20 L394.5,254.92 L395.5,255.66 L396.5,256.41 L397.5,257.19 L398.5,257.99 L399.5,258.81 L400.5,259.65 L401.5,260.51 L402.5,261.38 L403.5,262.27 L404.5,263.18 L405.5,264.11 L406.5,265.06 L407.5,266.04 L408.5,267.04 L409.5,268.05 L410.5,269.09 L411.5,270.14 L412.5,271.20 L413.5,272.28 L414.5,273.37 L415.5,274.49 L416.5,275.62 L417.5,276.78 L418.5,277.95 L419.5,279.14 L420.5,280.34 L421.5,281.54 L422.5,282.74 L423.5,283.94 L424.5,285.15 L425.5,286.36 L426.5,287.59 L427.5,288.82 L428.5,290.05 L429.5,291.29 L430.5,292.52 L431.5,293.75 L432.5,294.97 L433.5,296.18 L434.5,297.40 L435.5,298.62 L436.5,299.84 L437.5,301.05 L438.5,302.24 L439.5,303.40 L440.5,304.51 L441.5,305.56 L442.5,306.57 L443.5,307.53 L444.5,308.46 L445.5,309.36 L446.5,310.23 L447.5,311.09 L448.5,311.93 L449.5,312.75 L450.5,313.57 L451.5,314.38 L452.5,315.18 L453.5,315.97 L454.5,316.75 L455.5,317.52 L456.5,318.27 L457.5,319.02 L458.5,319.74 L459.5,320.45 L460.5,321.15 L461.5,321.83 L462.5,322.49 L463.5,323.15 L464.5,323.79 L465.5,324.43 L466.5,325.06 L467.5,325.67 L468.5,326.27 L469.5,326.86 L470.5,327.43 L471.5,327.98 L472.5,328.52 L473.5,329.04 L474.5,329.54 L475.5,330.04 L476.5,330.52 L477.5,330.99 L478.5,331.44 L479.5,331.89 L480.5,332.33 L481.5,332.75 L482.5,333.17 L483.5,333.57 L484.5,333.96 L485.5,334.34 L486.5,334.72 L487.5,335.08 L488.5,335.44 L489.5,335.78 L490.5,336.12 L491.5,336.46 L492.5,336.78 L493.5,337.10 L494.5,337.40 L495.5,337.70 L496.5,337.99 L497.5,338.28 L498.5,338.55 L499.5,338.82 L500.5,339.09 L501.5,339.35 L502.5,339.60 L503.5,339.86 L504.5,340.10 L505.5,340.34 L506.5,340.58 L507.5,340.80 L508.5,341.02 L509.5,341.23 L510.5,341.43 L511.5,341.62 L512.5,341.81 L513.5,341.98 L514.5,342.14 L515.5,342.29 L516.5,342.43 L517.5,342.57 L518.5,342.70 L519.5,342.83 L520.5,342.97 L521.5,343.11 L522.5,343.25 L523.5,343.39 L524.5,343.53 L525.5,343.65 L526.5,343.77 L527.5,343.87 L528.5,343.95 L529.5,344.03 L530.5,344.11 L531.5,344.18 L532.5,344.25 L533.5,344.32 L534.5,344.38 L535.5,344.43 L536.5,344.48 L537.5,344.52 L538.5,344.56 L539.5,344.59 L540.5,344.61 L541.5,344.62 L542.5,344.64 L543.5,344.65 L544.5,344.67 L545.5,344.68 L546.5,344.69 L547.5,344.70 L548.5,344.71 L549.5,344.72 L550.5,344.72 L551.5,344.73 L552.5,344.74 L553.5,344.75 L554.5,344.75 L555.5,344.76 L556.5,344.77 L557.5,344.78 L558.5,344.79 L559.5,344.80 L560.5,344.80 L561.5,344.81 L562.5,344.82 L563.5,344.83 L564.5,344.84 L565.5,344.85 L566.5,344.86 L567.5,344.87 L568.5,344.88 L569.5,344.88 L570.5,344.89 L571.5,344.90 L572.5,344.91 L573.5,344.92 L574.5,344.93 L575.5,344.93 L576.5,344.94 L577.5,344.95 L578.5,344.96 L579.5,344.97 L580.5,344.97 L581.5,344.98 L582.5,344.99 L583.5,345.00 L584.5,345.01 L585.5,345.02 L586.5,345.03 L587.5,345.04 L588.5,345.05 L589.5,345.06 L590.5,345.07 L591.5,345.08 L592.5,345.10 L593.5,345.11 L594.5,345.12 L595.5,345.13 L596.5,345.15 L597.5,345.16 L598.5,345.18 L599.5,345.19 L600.5,345.21 L601.5,345.23 L602.5,345.25 L603.5,345.27 L604.5,345.29 L605.5,345.32 L606.5,345.34 L607.5,345.37 L608.5,345.40 L609.5,345.43 L610.5,345.46 L611.5,345.50 L612.5,345.53 L613.5,345.56 L614.5,345.60 L615.5,345.63 L616.5,345.67 L617.5,345.71 L618.5,345.74 L619.5,345.78 L620.5,345.82 L621.5,345.86 L622.5,345.90 L623.5,345.95 L624.5,345.99 L625.5,346.04 L626.5,346.09 L627.5,346.14 L628.5,346.19 L629.5,346.24 L630.5,346.30 L631.5,346.35 L632.5,346.40 L633.5,346.46 L634.5,346.51 L635.5,346.56 L636.5,346.62 L637.5,346.67 L638.5,346.72 L639.5,346.77 L640.5,346.82 L641.5,346.87 L642.5,346.92 L643.5,346.97 L644.5,347.02 L645.5,347.07 L646.5,347.12 L647.5,347.17 L648.5,347.22 L649.5,347.27 L650.5,347.32 L651.5,347.37 L652.5,347.42 L653.5,347.47 L654.5,347.52 L655.5,347.57 L656.5,347.62 L657.5,347.67 L658.5,347.72 L659.5,347.77 L660.5,347.83 L661.5,347.88 L662.5,347.93 L663.5,347.98 L664.5,348.04 L665.5,348.09 L666.5,348.14 L667.5,348.20 L668.5,348.25 L669.5,348.31 L670.5,348.36 L671.5,348.42 L672.5,348.47 L673.5,348.52 L674.5,348.56" fill="none" stroke="#5081b5" stroke-width="1.85" stroke-linejoin="round" stroke-linecap="butt"/>
<path d="M113.8,349.4 L165,349.4 L180,349.3 L188,348.7 L194.8,347.7 L205,346.6 L210.8,345.7 L215,344.8" fill="none" stroke="#6b8a8c" stroke-width="2.6" stroke-linejoin="round"/>
<text x="99" y="354.5" font-size="14.3" text-anchor="end" fill="#0a0a0a">0</text>
<text x="99" y="299.1" font-size="14.3" text-anchor="end" fill="#0a0a0a">50</text>
<text x="99" y="243.3" font-size="14.3" text-anchor="end" fill="#0a0a0a">100</text>
<text x="99" y="188.0" font-size="14.3" text-anchor="end" fill="#0a0a0a">150</text>
<text x="99" y="132.2" font-size="14.3" text-anchor="end" fill="#0a0a0a">200</text>
<text x="99" y="76.9" font-size="14.3" text-anchor="end" fill="#0a0a0a">250</text>
<text x="99" y="21.3" font-size="14.3" text-anchor="end" fill="#0a0a0a">300</text>
<text transform="translate(119.7,371.6) rotate(-45)" font-size="15.2" text-anchor="end" textLength="48.0" lengthAdjust="spacingAndGlyphs" fill="#0a0a0a">Mar-20</text>
<text transform="translate(200.0,371.6) rotate(-45)" font-size="15.2" text-anchor="end" textLength="44.4" lengthAdjust="spacingAndGlyphs" fill="#0a0a0a">Apr-20</text>
<text transform="translate(278.2,371.6) rotate(-45)" font-size="15.2" text-anchor="end" textLength="49.7" lengthAdjust="spacingAndGlyphs" fill="#0a0a0a">May-20</text>
<text transform="translate(359.2,371.6) rotate(-45)" font-size="15.2" text-anchor="end" textLength="43.0" lengthAdjust="spacingAndGlyphs" fill="#0a0a0a">Jun-20</text>
<text transform="translate(437.6,371.6) rotate(-45)" font-size="15.2" text-anchor="end" textLength="38.3" lengthAdjust="spacingAndGlyphs" fill="#0a0a0a">Jul-20</text>
<text transform="translate(518.0,371.6) rotate(-45)" font-size="15.2" text-anchor="end" textLength="46.3" lengthAdjust="spacingAndGlyphs" fill="#0a0a0a">Aug-20</text>
<text transform="translate(598.7,371.6) rotate(-45)" font-size="15.2" text-anchor="end" textLength="44.8" lengthAdjust="spacingAndGlyphs" fill="#0a0a0a">Sep-20</text>
<text transform="translate(676.5,371.6) rotate(-45)" font-size="15.2" text-anchor="end" textLength="43.8" lengthAdjust="spacingAndGlyphs" fill="#0a0a0a">Oct-20</text>
<text transform="translate(24,163.9) rotate(-90)" font-size="13.4" font-weight="bold" text-anchor="middle" textLength="177.7" lengthAdjust="spacingAndGlyphs" fill="#0a0a0a" stroke="#111" stroke-width="0.15">Critical care beds occupied</text>
<text transform="translate(44.1,163.6) rotate(-90)" font-size="13.4" font-weight="bold" text-anchor="middle" textLength="173.8" lengthAdjust="spacingAndGlyphs" fill="#0a0a0a" stroke="#111" stroke-width="0.15">per 100,000 of population</text>
<line x1="439.4" y1="48.3" x2="465.4" y2="48.3" stroke="#e0100f" stroke-width="2.8" stroke-linecap="round"/>
<text x="469" y="52.4" font-size="13.3" textLength="186.4" lengthAdjust="spacingAndGlyphs" fill="#0a0a0a">Surge critical care bed capacity</text>
<line x1="439.3" y1="92.5" x2="464.8" y2="92.5" stroke="#0a0a14" stroke-width="2.0" stroke-linecap="round"/>
<text x="469" y="96.6" font-size="13.3" textLength="66.0" lengthAdjust="spacingAndGlyphs" fill="#0a0a0a">Do nothing</text>
<line x1="439.3" y1="137.9" x2="464.8" y2="137.9" stroke="#d08350" stroke-width="2.0" stroke-linecap="round"/>
<text x="469" y="141.9" font-size="13.3" textLength="82.7" lengthAdjust="spacingAndGlyphs" fill="#0a0a0a">Case isolation</text>
<line x1="439.3" y1="182.4" x2="464.8" y2="182.4" stroke="#d4a82c" stroke-width="2.0" stroke-linecap="round"/>
<text x="469" y="187.0" font-size="13.3" textLength="175.6" lengthAdjust="spacingAndGlyphs" fill="#0a0a0a">Case isolation and household</text>
<text x="469" y="204.6" font-size="13.3" textLength="65.3" lengthAdjust="spacingAndGlyphs" fill="#0a0a0a">quarantine</text>
<line x1="439.3" y1="226.9" x2="464.8" y2="226.9" stroke="#84c558" stroke-width="2.0" stroke-linecap="round"/>
<text x="469" y="231.3" font-size="13.3" textLength="189.9" lengthAdjust="spacingAndGlyphs" fill="#0a0a0a">Closing schools and universities</text>
<line x1="439.3" y1="272.0" x2="464.8" y2="272.0" stroke="#5081b5" stroke-width="2.0" stroke-linecap="round"/>
<text x="469" y="276.3" font-size="13.3" textLength="198.6" lengthAdjust="spacingAndGlyphs" fill="#0a0a0a">Case isolation, home quarantine,</text>
<text x="469" y="294.6" font-size="13.3" textLength="146.7" lengthAdjust="spacingAndGlyphs" fill="#0a0a0a">social distancing of &gt;70s</text>
</svg>
</body></html>
